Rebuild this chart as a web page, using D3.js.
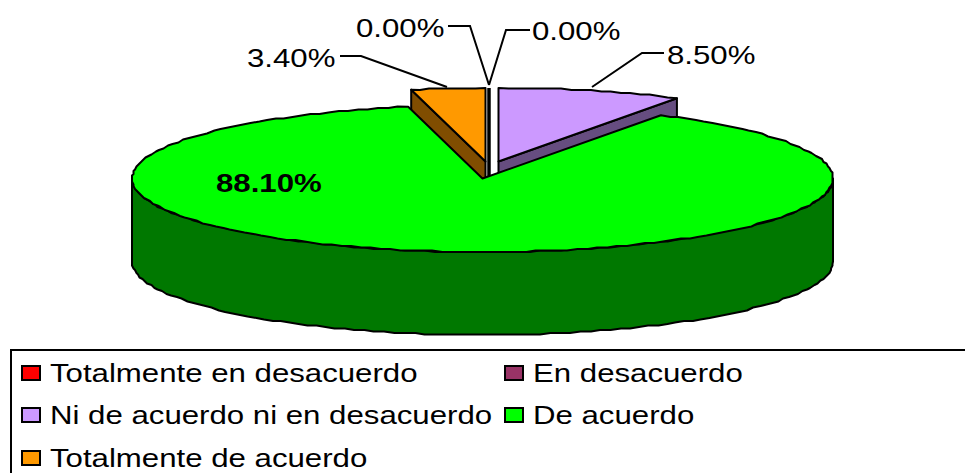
<!DOCTYPE html>
<html>
<head>
<meta charset="utf-8">
<script src="https://cdn.jsdelivr.net/npm/d3@7"></script>
<style>
    body { margin: 0; background: #fff; overflow: hidden; }
    text { font-family: "Liberation Sans", Arial, sans-serif; font-size: 26px; fill: #000; }
</style>
</head>
<body>
<svg></svg>
<script>
const categories = ["Totalmente en desacuerdo", "En desacuerdo", "Ni de acuerdo ni en desacuerdo", "De acuerdo", "Totalmente de acuerdo"];
const values = [0, 0, 8.5, 88.1, 3.4];
const valueLabels = ["0.00%", "0.00%", "8.50%", "88.10%", "3.40%"];
const topColors = ["#ff0000", "#993366", "#cc99ff", "#00ff00", "#ff9900"];
const wallColors = ["#800000", "#4d1a33", "#664d80", "#007800", "#804d00"];

const width = 965;
const height = 473;
const depth = 83;
const textStretch = 1.2;   // the text in this chart is drawn wider than normal

const svg = d3.select("svg")
                .attr("width", width)
                .attr("height", height);

// unit circle to flattened ellipse
const xScale = d3.scaleLinear().domain([-1, 1]).range([132, 833]);
const yScale = d3.scaleLinear().domain([-1, 1]).range([105, 252]);

const slices = d3.pie().sort(null).value(d => d)(values);

// how far each slice is pulled away from the middle
const offsets = [[6.5, -17], [6.5, -17], [16, -17], [0, 0], [3, -17]];

const line = d3.line();
const snap = v => Math.round(v / 1.5) * 1.5;

function rimPoint(angle, i, drop = 0) {
    return [
        xScale(Math.sin(angle)) + offsets[i][0],
        yScale(-Math.cos(angle)) + offsets[i][1] + drop
    ];
}

function apex(i, drop = 0) {
    return [xScale(0) + offsets[i][0], yScale(0) + offsets[i][1] + drop];
}

// rim sampled in short steps, snapped to a coarse grid for the stepped edge
function rim(start, end, i, drop = 0) {
    const steps = Math.max(1, Math.ceil((end - start) / 0.03));
    const pts = d3.range(steps + 1).map(k => {
        const p = rimPoint(start + (end - start) * k / steps, i, drop);
        return (k === 0 || k === steps) ? p : [snap(p[0]), snap(p[1])];
    });
    return pts;
}

function drawShape(points, fill) {
    svg.append("path")
        .attr("d", line(points) + "Z")
        .attr("fill", fill)
        .attr("stroke", "#000")
        .attr("stroke-width", 2)
        .attr("stroke-linejoin", "round");
}

function drawRadialWall(angle, i) {
    const a = apex(i), b = rimPoint(angle, i);
    drawShape([a, b, [b[0], b[1] + depth], [a[0], a[1] + depth]], wallColors[i]);
}

// pulled out slices go first, their walls sink behind the big slice
drawRadialWall(slices[2].endAngle, 2);
drawRadialWall(slices[4].startAngle, 4);

// empty slices collapse to a single upright line
slices.forEach((s, i) => {
    if (s.value !== 0) return;
    svg.append("path")
        .attr("d", line([rimPoint(s.startAngle, i), apex(i, depth)]))
        .attr("stroke", "#000")
        .attr("stroke-width", 3);
});

// front wall of the big slice
const frontStart = Math.PI / 2;
const frontEnd = 3 * Math.PI / 2;
drawShape(
    rim(frontStart, frontEnd, 3).concat(rim(frontStart, frontEnd, 3, depth).reverse()),
    wallColors[3]
);

// top faces
slices.forEach((s, i) => {
    if (s.value === 0) return;
    drawShape([apex(i)].concat(rim(s.startAngle, s.endAngle, i)), topColors[i]);
});

function drawText(str, x, y, bold) {
    svg.append("text")
        .attr("transform", `translate(${x},${y}) scale(${textStretch},1)`)
        .style("font-weight", bold ? "bold" : "normal")
        .text(str);
}

// value labels and their leader lines
const labelSpots = [
    { x: 356, y: 37, leader: [[448, 26], [470, 26], [489, 85]] },
    { x: 532, y: 40, leader: [[530, 30], [506, 30], [489, 85]] },
    { x: 667, y: 64, leader: [[664, 53], [642, 53], [592, 87]] },
    { x: 216, y: 192, leader: null },
    { x: 247, y: 67, leader: [[340, 56], [361, 56], [447, 87]] }
];

labelSpots.forEach((spot, i) => {
    drawText(valueLabels[i], spot.x, spot.y, i === 3);
    if (spot.leader) {
        svg.append("path")
            .attr("d", line(spot.leader))
            .attr("fill", "none")
            .attr("stroke", "#000")
            .attr("stroke-width", 2);
    }
});

// legend box runs off the right and bottom of the page
svg.append("rect")
    .attr("x", 11)
    .attr("y", 350)
    .attr("width", width)
    .attr("height", height)
    .attr("fill", "#fff")
    .attr("stroke", "#000")
    .attr("stroke-width", 2);

const legendSpots = [[22, 366], [505, 366], [22, 408], [505, 408], [22, 451]];

categories.forEach((name, i) => {
    const [x, y] = legendSpots[i];
    svg.append("rect")
        .attr("x", x)
        .attr("y", y)
        .attr("width", 18)
        .attr("height", 14)
        .attr("fill", topColors[i])
        .attr("stroke", "#000")
        .attr("stroke-width", 2);
    drawText(name, x + 28, y + 16, false);
});
</script>
</body>
</html>
